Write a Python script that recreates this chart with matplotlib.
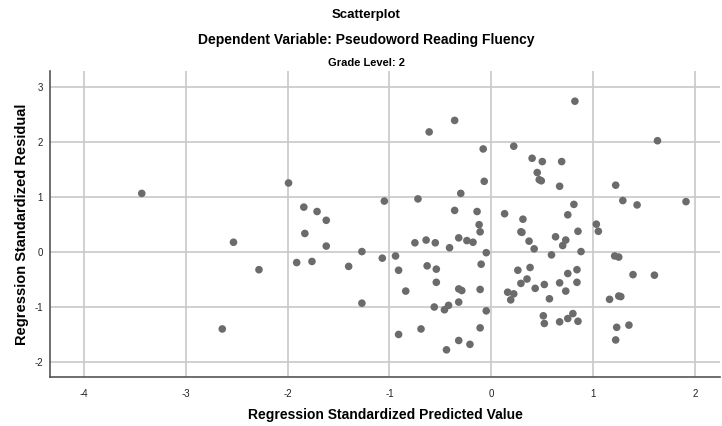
import matplotlib
matplotlib.use("Agg")
import matplotlib.pyplot as plt

plt.rcParams['font.family'] = ['Liberation Sans', 'DejaVu Sans']
plt.rcParams['axes.unicode_minus'] = False

# standardized predicted value (x) and standardized residual (y)
pred = [-3.43, -1.99, -2.53, -2.28, -2.64, -0.61, -1.84, -1.71, -1.62, -1.05,
        -0.72, -1.83, -1.62, -1.91, -1.76, -1.40, -1.27, -1.07, -0.94, -0.91,
        -0.75, -0.64, -0.63, -0.84, -1.27, -0.91, -0.69, -0.36, -0.08, 0.22,
        0.40, 0.50, 0.69, 0.45, 0.47, 0.49, 0.67, -0.07, -0.30, -0.36,
        -0.14, 0.13, 0.31, 0.75, -0.12, -0.11, -0.55, -0.41, -0.32, -0.24,
        -0.18, -0.05, -0.54, -0.10, -0.54, -0.32, -0.29, -0.11, -0.56, -0.46,
        -0.42, -0.32, -0.05, -0.11, -0.32, -0.21, -0.44, 0.29, 0.30, 0.37,
        0.42, 0.63, 0.73, 0.70, 0.59, 0.75, 0.26, 0.38, 0.29, 0.35,
        0.43, 0.52, 0.57, 0.67, 0.73, 0.16, 0.22, 0.19, 0.51, 0.52,
        0.67, 0.75, 0.82, 1.63, 1.22, 0.81, 1.29, 1.43, 1.91, 1.03,
        1.05, 0.85, 0.88, 1.21, 1.25, 1.39, 1.60, 0.84, 0.84, 1.16,
        1.25, 1.27, 0.80, 0.85, 1.35, 1.23, 1.22]
resid = [1.07, 1.26, 0.18, -0.32, -1.40, 2.19, 0.82, 0.74, 0.58, 0.93,
         0.97, 0.34, 0.11, -0.19, -0.17, -0.26, 0.01, -0.11, -0.07, -0.33,
         0.17, 0.22, -0.25, -0.71, -0.93, -1.50, -1.40, 2.40, 1.88, 1.93,
         1.71, 1.65, 1.65, 1.45, 1.32, 1.30, 1.20, 1.29, 1.07, 0.76,
         0.74, 0.70, 0.60, 0.68, 0.50, 0.37, 0.17, 0.08, 0.26, 0.21,
         0.18, -0.01, -0.31, -0.22, -0.55, -0.67, -0.70, -0.68, -1.00, -1.05,
         -0.97, -0.91, -1.07, -1.38, -1.61, -1.68, -1.78, 0.37, 0.36, 0.20,
         0.06, 0.28, 0.22, 0.12, -0.05, -0.39, -0.33, -0.28, -0.57, -0.49,
         -0.66, -0.59, -0.85, -0.56, -0.71, -0.73, -0.76, -0.87, -1.16, -1.30,
         -1.27, -1.21, 2.75, 2.03, 1.22, 0.87, 0.94, 0.86, 0.92, 0.51,
         0.38, 0.38, 0.01, -0.07, -0.09, -0.41, -0.42, -0.32, -0.55, -0.86,
         -0.80, -0.81, -1.12, -1.26, -1.33, -1.37, -1.60]

xticks = [-4, -3, -2, -1, 0, 1, 2]
yticks = [-2, -1, 0, 1, 2, 3]

fig = plt.figure(figsize=(7.22, 4.26), dpi=100)
ax = fig.add_axes([0.0693, 0.1157, 0.928, 0.7176])

ax.scatter(pred, resid, s=30, color='#6b6b6b', edgecolors='none', zorder=3)

ax.set_xlim(-4.33, 2.244)
ax.set_ylim(-2.27, 3.30)
ax.set_xticks(xticks)
ax.set_yticks(yticks)
ax.tick_params(length=0, labelsize=7, colors='#222222', pad=9)
ax.tick_params(axis='y', pad=5)
ax.grid(True, color='#c8c8c8', linewidth=1.2)
ax.set_axisbelow(True)
for side in ['top', 'right']:
    ax.spines[side].set_visible(False)
for side in ['left', 'bottom']:
    ax.spines[side].set_color('#555555')
    ax.spines[side].set_linewidth(1.2)

ax.set_xlabel('Regression Standardized Predicted Value', fontsize=10,
              fontweight='bold', labelpad=6)
ax.set_ylabel('Regression Standardized Residual', fontsize=10.5,
              fontweight='bold', labelpad=4)

fig.text(0.507, 1 - 15 / 426, 'Scatterplot', ha='center', va='center',
         fontsize=9.5, fontweight='bold')
fig.text(0.507, 1 - 40 / 426, 'Dependent Variable: Pseudoword Reading Fluency',
         ha='center', va='center', fontsize=10, fontweight='bold')
fig.text(0.507, 1 - 63 / 426, 'Grade Level: 2', ha='center', va='center',
         fontsize=8, fontweight='bold')

fig.savefig('out.png', dpi=100)
